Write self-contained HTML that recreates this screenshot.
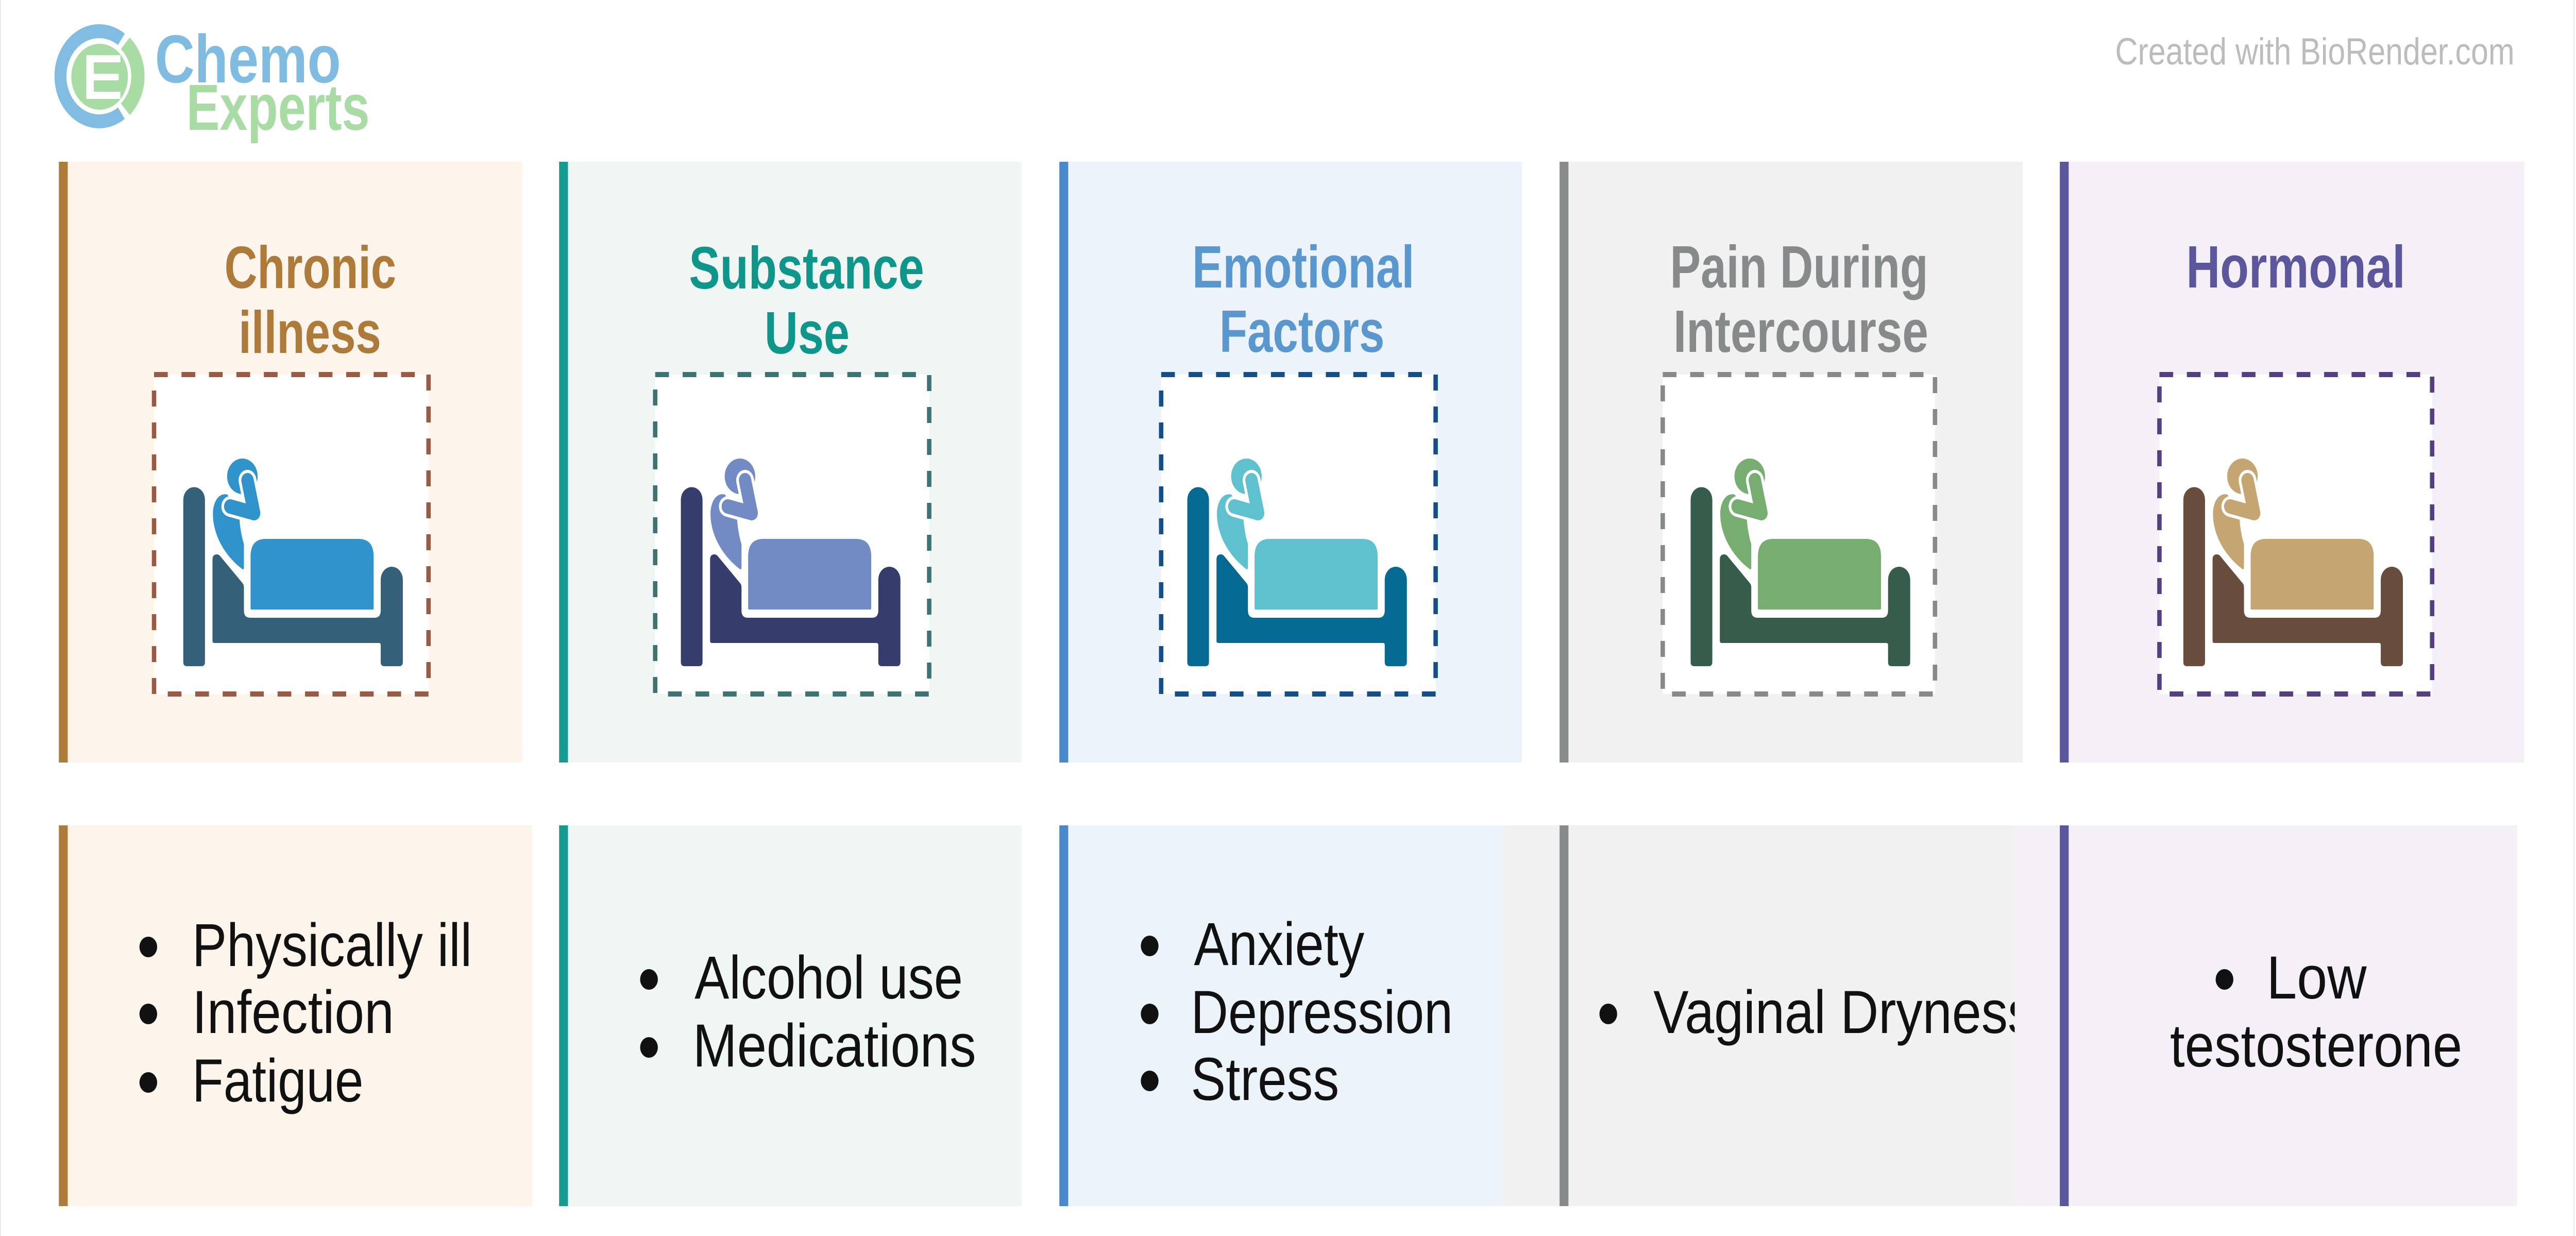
<!DOCTYPE html>
<html>
<head>
<meta charset="utf-8">
<style>
html,body{margin:0;padding:0;background:#fff;overflow:hidden;width:100%;height:100%;}
svg{display:block;width:100vw;height:100vh;}
text{font-family:"Liberation Sans",Arial,sans-serif;}
</style>
</head>
<body>
<svg xmlns="http://www.w3.org/2000/svg" viewBox="0 0 5819 2399" preserveAspectRatio="none">
<rect x="0" y="0" width="5819" height="2399" fill="#ffffff"/>
<rect x="0" y="0" width="2" height="2399" fill="#e6e6e6"/>
<rect x="5813" y="0" width="2" height="2399" fill="#e6e6e6"/>

<!-- LOGO -->
<g>
  <path d="M274.2,76.3 A87.5,87.5 0 1 0 274.2,219.7" fill="none" stroke="#81bde2" stroke-width="27"/>
  <path d="M283,84 A86,86 0 0 1 283,212" fill="none" stroke="#a9dba4" stroke-width="30"/>
  <circle cx="225" cy="149" r="64" fill="#a9dba4"/>
  <rect x="195" y="107" width="17" height="85" fill="#fff"/>
  <rect x="195" y="107" width="77" height="14" fill="#fff"/>
  <rect x="195" y="178" width="77" height="14" fill="#fff"/>
  <rect x="195" y="143" width="73" height="13" fill="#fff"/>
  <text x="350" y="160" font-size="132" font-weight="bold" fill="#80bce1" textLength="420" lengthAdjust="spacingAndGlyphs">Chemo</text>
  <text x="421" y="252" font-size="126" font-weight="bold" fill="#a9dba4" textLength="414" lengthAdjust="spacingAndGlyphs">Experts</text>
</g>

<text x="4778" y="125" font-size="73" fill="#bcbcbc" textLength="902" lengthAdjust="spacingAndGlyphs">Created with BioRender.com</text>

<!-- TOP PANELS backgrounds -->
<rect x="133" y="314" width="1046" height="1166" fill="#fdf5eb"/>
<rect x="1263" y="314" width="1045" height="1166" fill="#eff6f4"/>
<rect x="2393" y="314" width="1045" height="1166" fill="#edf3fb"/>
<rect x="3523" y="314" width="1046" height="1166" fill="#f1f1f1"/>
<rect x="4653" y="314" width="1049" height="1166" fill="#f5f0f7"/>
<rect x="133" y="314" width="20" height="1166" fill="#ad7b3b"/>
<rect x="1263" y="314" width="20" height="1166" fill="#179a91"/>
<rect x="2393" y="314" width="20" height="1166" fill="#4a89c9"/>
<rect x="3523" y="314" width="20" height="1166" fill="#878b8c"/>
<rect x="4653" y="314" width="20" height="1166" fill="#5b579c"/>

<!-- Headers -->
<g font-size="116" font-weight="bold" text-anchor="middle">
  <text x="701" y="559" fill="#ad7a3a" textLength="388" lengthAdjust="spacingAndGlyphs">Chronic</text>
  <text x="700" y="685" fill="#ad7a3a" textLength="322" lengthAdjust="spacingAndGlyphs">illness</text>
  <text x="1822" y="560" fill="#0e968b" textLength="531" lengthAdjust="spacingAndGlyphs">Substance</text>
  <text x="1823" y="686" fill="#0e968b" textLength="192" lengthAdjust="spacingAndGlyphs">Use</text>
  <text x="2944" y="558" fill="#5b97cf" textLength="502" lengthAdjust="spacingAndGlyphs">Emotional</text>
  <text x="2941" y="683" fill="#5b97cf" textLength="373" lengthAdjust="spacingAndGlyphs">Factors</text>
  <text x="4064" y="558" fill="#868a8b" textLength="583" lengthAdjust="spacingAndGlyphs">Pain During</text>
  <text x="4068" y="683" fill="#868a8b" textLength="576" lengthAdjust="spacingAndGlyphs">Intercourse</text>
  <text x="5186" y="558" fill="#5c579c" textLength="495" lengthAdjust="spacingAndGlyphs">Hormonal</text>
</g>

<!-- Dashed boxes -->
<g fill="#ffffff" stroke-width="10" stroke-dasharray="31 31">
  <rect x="348" y="727" width="620" height="620" stroke="#9a5b44"/>
  <rect x="1480" y="727" width="619" height="620" stroke="#3e7373"/>
  <rect x="2623" y="727" width="620" height="620" stroke="#154f87"/>
  <rect x="3756" y="727" width="615" height="620" stroke="#868a8b"/>
  <rect x="4878" y="727" width="616" height="620" stroke="#553f80"/>
</g>

<!-- Bed icons -->
<g transform="translate(414,0)">
  <path d="M0,970 A24.5,24.5 0 0 1 49,970 L49,1285 Q49,1293 41,1293 L8,1293 Q0,1293 0,1285 Z" fill="#35607a"/>
  <path d="M66,1086 Q66,1076 76,1076 Q80,1076 83,1079 L134,1132 Q137,1135 137,1140 L137,1185 Q137,1199 151,1199 L432,1199 Q446,1199 446,1185 L446,1125 A25,25 0 0 1 496,1125 L496,1285 Q496,1293 488,1293 L454,1293 Q446,1293 446,1285 L446,1252 Q446,1248 442,1248 L70,1248 Q66,1248 66,1244 Z" fill="#35607a"/>
  <path d="M152,1181 L152,1080 Q152,1046 186,1046 L396,1046 Q430,1046 430,1080 L430,1181 Q430,1183 428,1183 L154,1183 Q152,1183 152,1181 Z" fill="#3193cc"/>
  <circle cx="133.5" cy="924.5" r="34.5" fill="#3193cc"/>
  <path d="M100,960 C80,955 66,975 67,1000 C68,1040 95,1080 134,1105 Q137,1106 137,1100 L137,1056 C133,1045 129,1030 127,1008 Z" fill="#3193cc"/>
  <polyline points="106,983 160,996 145,932" fill="none" stroke="#ffffff" stroke-width="40" stroke-linecap="round" stroke-linejoin="round"/>
  <polyline points="106,983 160,996 145,932" fill="none" stroke="#3193cc" stroke-width="28" stroke-linecap="round" stroke-linejoin="round"/>
</g>
<g transform="translate(1538,0)">
  <path d="M0,970 A24.5,24.5 0 0 1 49,970 L49,1285 Q49,1293 41,1293 L8,1293 Q0,1293 0,1285 Z" fill="#363d6c"/>
  <path d="M66,1086 Q66,1076 76,1076 Q80,1076 83,1079 L134,1132 Q137,1135 137,1140 L137,1185 Q137,1199 151,1199 L432,1199 Q446,1199 446,1185 L446,1125 A25,25 0 0 1 496,1125 L496,1285 Q496,1293 488,1293 L454,1293 Q446,1293 446,1285 L446,1252 Q446,1248 442,1248 L70,1248 Q66,1248 66,1244 Z" fill="#363d6c"/>
  <path d="M152,1181 L152,1080 Q152,1046 186,1046 L396,1046 Q430,1046 430,1080 L430,1181 Q430,1183 428,1183 L154,1183 Q152,1183 152,1181 Z" fill="#738bc4"/>
  <circle cx="133.5" cy="924.5" r="34.5" fill="#738bc4"/>
  <path d="M100,960 C80,955 66,975 67,1000 C68,1040 95,1080 134,1105 Q137,1106 137,1100 L137,1056 C133,1045 129,1030 127,1008 Z" fill="#738bc4"/>
  <polyline points="106,983 160,996 145,932" fill="none" stroke="#ffffff" stroke-width="40" stroke-linecap="round" stroke-linejoin="round"/>
  <polyline points="106,983 160,996 145,932" fill="none" stroke="#738bc4" stroke-width="28" stroke-linecap="round" stroke-linejoin="round"/>
</g>
<g transform="translate(2682,0)">
  <path d="M0,970 A24.5,24.5 0 0 1 49,970 L49,1285 Q49,1293 41,1293 L8,1293 Q0,1293 0,1285 Z" fill="#056a91"/>
  <path d="M66,1086 Q66,1076 76,1076 Q80,1076 83,1079 L134,1132 Q137,1135 137,1140 L137,1185 Q137,1199 151,1199 L432,1199 Q446,1199 446,1185 L446,1125 A25,25 0 0 1 496,1125 L496,1285 Q496,1293 488,1293 L454,1293 Q446,1293 446,1285 L446,1252 Q446,1248 442,1248 L70,1248 Q66,1248 66,1244 Z" fill="#056a91"/>
  <path d="M152,1181 L152,1080 Q152,1046 186,1046 L396,1046 Q430,1046 430,1080 L430,1181 Q430,1183 428,1183 L154,1183 Q152,1183 152,1181 Z" fill="#5fc1cd"/>
  <circle cx="133.5" cy="924.5" r="34.5" fill="#5fc1cd"/>
  <path d="M100,960 C80,955 66,975 67,1000 C68,1040 95,1080 134,1105 Q137,1106 137,1100 L137,1056 C133,1045 129,1030 127,1008 Z" fill="#5fc1cd"/>
  <polyline points="106,983 160,996 145,932" fill="none" stroke="#ffffff" stroke-width="40" stroke-linecap="round" stroke-linejoin="round"/>
  <polyline points="106,983 160,996 145,932" fill="none" stroke="#5fc1cd" stroke-width="28" stroke-linecap="round" stroke-linejoin="round"/>
</g>
<g transform="translate(3819,0)">
  <path d="M0,970 A24.5,24.5 0 0 1 49,970 L49,1285 Q49,1293 41,1293 L8,1293 Q0,1293 0,1285 Z" fill="#365c4b"/>
  <path d="M66,1086 Q66,1076 76,1076 Q80,1076 83,1079 L134,1132 Q137,1135 137,1140 L137,1185 Q137,1199 151,1199 L432,1199 Q446,1199 446,1185 L446,1125 A25,25 0 0 1 496,1125 L496,1285 Q496,1293 488,1293 L454,1293 Q446,1293 446,1285 L446,1252 Q446,1248 442,1248 L70,1248 Q66,1248 66,1244 Z" fill="#365c4b"/>
  <path d="M152,1181 L152,1080 Q152,1046 186,1046 L396,1046 Q430,1046 430,1080 L430,1181 Q430,1183 428,1183 L154,1183 Q152,1183 152,1181 Z" fill="#77ad71"/>
  <circle cx="133.5" cy="924.5" r="34.5" fill="#77ad71"/>
  <path d="M100,960 C80,955 66,975 67,1000 C68,1040 95,1080 134,1105 Q137,1106 137,1100 L137,1056 C133,1045 129,1030 127,1008 Z" fill="#77ad71"/>
  <polyline points="106,983 160,996 145,932" fill="none" stroke="#ffffff" stroke-width="40" stroke-linecap="round" stroke-linejoin="round"/>
  <polyline points="106,983 160,996 145,932" fill="none" stroke="#77ad71" stroke-width="28" stroke-linecap="round" stroke-linejoin="round"/>
</g>
<g transform="translate(4932,0)">
  <path d="M0,970 A24.5,24.5 0 0 1 49,970 L49,1285 Q49,1293 41,1293 L8,1293 Q0,1293 0,1285 Z" fill="#684c3c"/>
  <path d="M66,1086 Q66,1076 76,1076 Q80,1076 83,1079 L134,1132 Q137,1135 137,1140 L137,1185 Q137,1199 151,1199 L432,1199 Q446,1199 446,1185 L446,1125 A25,25 0 0 1 496,1125 L496,1285 Q496,1293 488,1293 L454,1293 Q446,1293 446,1285 L446,1252 Q446,1248 442,1248 L70,1248 Q66,1248 66,1244 Z" fill="#684c3c"/>
  <path d="M152,1181 L152,1080 Q152,1046 186,1046 L396,1046 Q430,1046 430,1080 L430,1181 Q430,1183 428,1183 L154,1183 Q152,1183 152,1181 Z" fill="#c5a572"/>
  <circle cx="133.5" cy="924.5" r="34.5" fill="#c5a572"/>
  <path d="M100,960 C80,955 66,975 67,1000 C68,1040 95,1080 134,1105 Q137,1106 137,1100 L137,1056 C133,1045 129,1030 127,1008 Z" fill="#c5a572"/>
  <polyline points="106,983 160,996 145,932" fill="none" stroke="#ffffff" stroke-width="40" stroke-linecap="round" stroke-linejoin="round"/>
  <polyline points="106,983 160,996 145,932" fill="none" stroke="#c5a572" stroke-width="28" stroke-linecap="round" stroke-linejoin="round"/>
</g>

<!-- BOTTOM PANELS -->
<rect x="133" y="1602" width="1069" height="739" fill="#fdf5eb"/>
<rect x="1263" y="1602" width="1045" height="739" fill="#eff6f4"/>
<rect x="2393" y="1602" width="1001" height="739" fill="#edf3fb"/>
<rect x="3394" y="1602" width="1157" height="739" fill="#f1f1f1"/>

<g font-size="118" fill="#111111">
  <text x="3735" y="2005" textLength="860" lengthAdjust="spacingAndGlyphs">Vaginal Dryness</text>
</g>
<circle cx="3633" cy="1968" r="20" fill="#111111"/>

<rect x="4551" y="1602" width="1135" height="739" fill="#f5f0f7"/>

<rect x="133" y="1602" width="20" height="739" fill="#ad7b3b"/>
<rect x="1263" y="1602" width="20" height="739" fill="#179a91"/>
<rect x="2393" y="1602" width="20" height="739" fill="#4a89c9"/>
<rect x="3523" y="1602" width="20" height="739" fill="#878b8c"/>
<rect x="4653" y="1602" width="20" height="739" fill="#5b579c"/>

<g font-size="118" fill="#111111">
  <text x="434" y="1875" textLength="632" lengthAdjust="spacingAndGlyphs">Physically ill</text>
  <text x="434" y="2005" textLength="456" lengthAdjust="spacingAndGlyphs">Infection</text>
  <text x="434" y="2138" textLength="387" lengthAdjust="spacingAndGlyphs">Fatigue</text>

  <text x="1569" y="1938" textLength="606" lengthAdjust="spacingAndGlyphs">Alcohol use</text>
  <text x="1565" y="2070" textLength="640" lengthAdjust="spacingAndGlyphs">Medications</text>

  <text x="2697" y="1873" textLength="385" lengthAdjust="spacingAndGlyphs">Anxiety</text>
  <text x="2690" y="2005" textLength="592" lengthAdjust="spacingAndGlyphs">Depression</text>
  <text x="2690" y="2135" textLength="335" lengthAdjust="spacingAndGlyphs">Stress</text>

  <text x="5120" y="1938" textLength="226" lengthAdjust="spacingAndGlyphs">Low</text>
  <text x="4902" y="2070" textLength="660" lengthAdjust="spacingAndGlyphs">testosterone</text>
</g>

<g fill="#111111">
  <circle cx="335" cy="1838" r="20"/>
  <circle cx="335" cy="1968" r="20"/>
  <circle cx="335" cy="2101" r="20"/>
  <circle cx="1466" cy="1901" r="20"/>
  <circle cx="1466" cy="2033" r="20"/>
  <circle cx="2597" cy="1836" r="20"/>
  <circle cx="2597" cy="1968" r="20"/>
  <circle cx="2597" cy="2098" r="20"/>
  <circle cx="5025" cy="1901" r="20"/>
</g>
</svg>
</body>
</html>
